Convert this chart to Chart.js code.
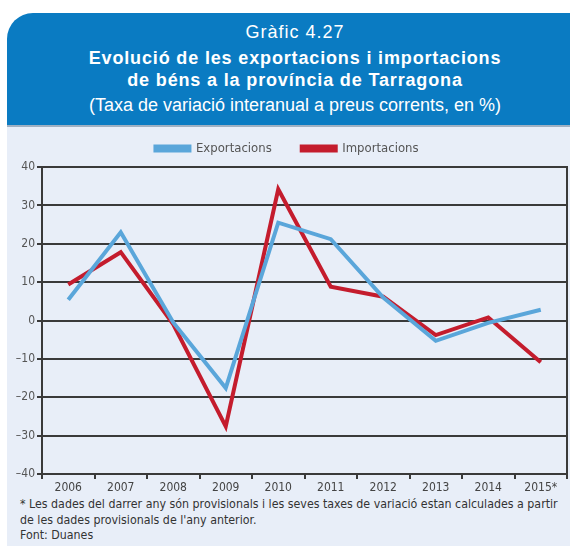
<!DOCTYPE html>
<html>
<head>
<meta charset="utf-8">
<script src="https://cdn.jsdelivr.net/npm/chart.js@4/dist/chart.umd.min.js"></script>
<style>
    body { margin: 0; width: 570px; height: 546px; background: #fff; position: relative; overflow: hidden; }
    #header {
        position: absolute; left: 7px; top: 13px; width: 563px; height: 112px;
        background: #0a7bc2; border-top-left-radius: 26px; color: #fff;
        font-family: 'Liberation Sans', Arial, sans-serif; text-align: center;
        border-bottom: 2px solid #9fb0c2;
    }
    #header div { position: absolute; left: 13px; right: 0; font-size: 18px; line-height: 18px; white-space: nowrap; }
    #panel { position: absolute; left: 7px; top: 127px; width: 563px; height: 419px; background: #e8eef8; }
    #chartBox { position: absolute; left: 7px; top: 112px; width: 563px; height: 385px; }
    #note {
        position: absolute; left: 20px; top: 497px; width: 548px;
        font-family: 'DejaVu Sans Condensed', Arial, sans-serif;
        font-size: 12.3px; line-height: 15.5px; color: #333;
    }
</style>
</head>
<body>
<div id="header">
    <div style="top: 10px; letter-spacing: 1px;">Gràfic 4.27</div>
    <div style="top: 36px; font-weight: bold; letter-spacing: 0.85px;">Evolució de les exportacions i importacions</div>
    <div style="top: 58px; font-weight: bold; letter-spacing: 0.85px;">de béns a la província de Tarragona</div>
    <div style="top: 83px;">(Taxa de variació interanual a preus corrents, en %)</div>
</div>
<div id="panel"></div>
<div id="chartBox"><canvas id="tradeChart"></canvas></div>
<div id="note">
    * Les dades del darrer any són provisionals i les seves taxes de variació estan calculades a partir<br>
    de les dades provisionals de l'any anterior.<br>
    Font: Duanes
</div>
<script>
// dades llegides del gràfic
const years = ['2006', '2007', '2008', '2009', '2010', '2011', '2012', '2013', '2014', '2015*'];
const exportacions = [5.4, 23, -0.5, -17.6, 25.5, 21.2, 6, -5.3, -0.6, 2.8];
const importacions = [9.4, 17.8, -1, -27.6, 34.2, 8.8, 6.2, -3.8, 0.8, -10.9];
const yTicks = [-40, -30, -20, -10, 0, 10, 20, 30, 40];

const narrowFont = "'DejaVu Sans Condensed', Arial, sans-serif";
const axisColor = '#3a3a3a';

// alçada fixa de la llegenda perquè l'àrea del gràfic comenci on toca
const legendHeight = {
    id: 'legendHeight',
    beforeLayout: function (chart) {
        const legend = chart.legend;
        if (legend && !legend._fixedFit) {
            const baseFit = legend.fit;
            legend.fit = function () {
                baseFit.call(this);
                this.height = 55;
            };
            legend._fixedFit = true;
        }
    }
};

const ctx = document.getElementById('tradeChart');

new Chart(ctx, {
    type: 'line',
    data: {
        labels: years,
        datasets: [
            {
                label: 'Exportacions',
                data: exportacions,
                borderColor: '#5aa6da',
                backgroundColor: '#5aa6da',
                borderWidth: 4,
                tension: 0,
                pointRadius: 0
            },
            {
                label: 'Importacions',
                data: importacions,
                borderColor: '#c41c2d',
                backgroundColor: '#c41c2d',
                borderWidth: 4,
                tension: 0,
                pointRadius: 0
            }
        ]
    },
    plugins: [legendHeight],
    options: {
        responsive: true,
        maintainAspectRatio: false,
        animation: false,
        layout: {
            padding: { top: 0, right: 3, bottom: 0, left: 0 }
        },
        plugins: {
            tooltip: { enabled: false },
            legend: {
                display: true,
                position: 'top',
                labels: {
                    color: '#555',
                    font: { size: 13, family: narrowFont },
                    boxWidth: 34,
                    boxHeight: 4,
                    padding: 30
                }
            }
        },
        scales: {
            x: {
                offset: true,
                afterFit: function (scale) { scale.height = 23; },
                grid: {
                    offset: true,
                    drawOnChartArea: false,
                    drawTicks: true,
                    tickLength: 5,
                    color: axisColor,
                    lineWidth: 2
                },
                border: { display: true, color: axisColor, width: 2 },
                ticks: {
                    color: '#444',
                    padding: 2,
                    maxRotation: 0,
                    font: { size: 12, family: narrowFont }
                }
            },
            y: {
                min: -40,
                max: 40,
                afterFit: function (scale) { scale.width = 35; },
                afterBuildTicks: function (scale) {
                    scale.ticks = yTicks.map(v => ({ value: v }));
                },
                grid: {
                    color: axisColor,
                    lineWidth: 2,
                    drawTicks: true,
                    tickLength: 5
                },
                border: { display: true, color: axisColor, width: 2 },
                ticks: {
                    color: '#555',
                    padding: 2,
                    font: { size: 12, family: narrowFont },
                    callback: function (value) {
                        return String(value).replace('-', '\u2013');
                    }
                }
            },
            yRight: {
                position: 'right',
                min: -40,
                max: 40,
                afterFit: function (scale) { scale.width = 0; },
                grid: { display: false, drawTicks: false },
                border: { display: true, color: axisColor, width: 2 },
                ticks: { display: false }
            }
        }
    }
});
</script>
</body>
</html>
